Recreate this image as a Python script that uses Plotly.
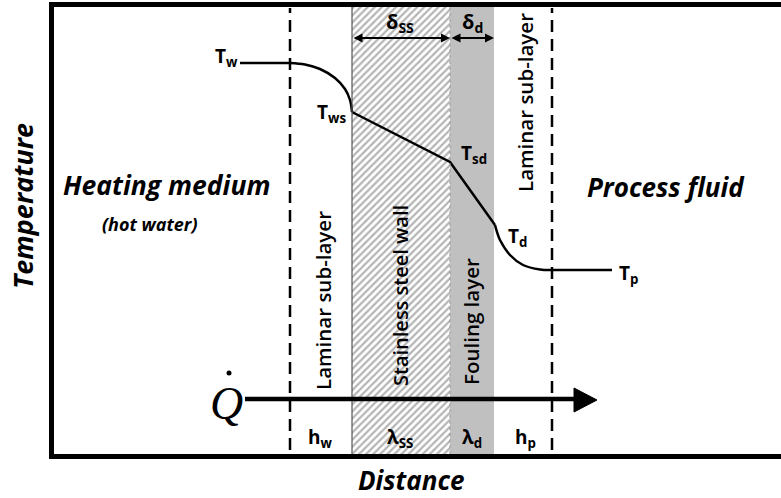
import plotly.graph_objects as go

# ---- data (diagram units: distance -> x, temperature -> y) ----
# layer boundaries along the distance axis
boundary_names = ["hot sub-layer edge", "wall start", "wall/deposit", "deposit end", "cold sub-layer edge"]
boundary_x = [290, 352, 450, 494, 552]

# temperature profile
hot_bulk_x = [240, 290]
hot_bulk_T = [435, 435]
hot_film_x = [290, 305, 320, 335, 345, 350, 352]
hot_film_T = [435, 433.5, 429, 420, 409, 398, 386]
solid_x = [352, 450, 495]
solid_T = [386, 336, 273]
cold_film_x = [495, 497, 500, 510, 523, 540, 552]
cold_film_T = [273, 266, 258, 243, 233, 228.5, 228]
cold_bulk_x = [552, 612]
cold_bulk_T = [228, 228]

point_labels = ["T<sub>w</sub>", "T<sub>ws</sub>", "T<sub>sd</sub>", "T<sub>d</sub>", "T<sub>p</sub>"]

W, H = 781, 498
def Y(py):
    return H - py

FONT = "Open Sans"
fig = go.Figure()

# stainless steel wall (hatched)
x0, x1 = boundary_x[1], boundary_x[2]
fig.add_trace(go.Scatter(
    x=[x0, x1, x1, x0, x0], y=[Y(454), Y(454), Y(7), Y(7), Y(454)],
    mode="lines", fill="toself", line=dict(width=0),
    fillcolor="white",
    fillpattern=dict(shape="/", fgcolor="#6a6a6a", bgcolor="white", size=5, solidity=0.45),
    hoverinfo="skip", showlegend=False))

# temperature profile
for xs, ts, shp in [(hot_bulk_x, hot_bulk_T, "linear"), (hot_film_x, hot_film_T, "spline"),
                    (solid_x, solid_T, "linear"), (cold_film_x, cold_film_T, "spline"),
                    (cold_bulk_x, cold_bulk_T, "linear")]:
    fig.add_trace(go.Scatter(x=xs, y=ts, mode="lines",
                             line=dict(color="black", width=2.5, shape=shp, smoothing=1.0),
                             hoverinfo="skip", showlegend=False))

shapes = []
# fouling layer
shapes.append(dict(type="rect", x0=boundary_x[2], x1=boundary_x[3], y0=Y(454), y1=Y(7),
                   fillcolor="#c0c0c0", line=dict(width=0), layer="below"))
# wall edges
shapes.append(dict(type="line", x0=boundary_x[1], x1=boundary_x[1], y0=Y(454), y1=Y(7),
                   line=dict(color="#555555", width=1.2)))
shapes.append(dict(type="line", x0=boundary_x[2], x1=boundary_x[2], y0=Y(454), y1=Y(7),
                   line=dict(color="#999999", width=1, dash="dot")))
# dashed laminar sub-layer edges
for bx in (boundary_x[0], boundary_x[4]):
    shapes.append(dict(type="line", x0=bx, x1=bx, y0=Y(450), y1=Y(8),
                       line=dict(color="black", width=2.5, dash="12px,7px")))
# frame
shapes.append(dict(type="line", x0=51.5, x1=51.5, y0=Y(459), y1=Y(2), line=dict(color="black", width=5)))
shapes.append(dict(type="line", x0=49, x1=W, y0=Y(4.5), y1=Y(4.5), line=dict(color="black", width=5)))
shapes.append(dict(type="line", x0=49, x1=W, y0=Y(456.5), y1=Y(456.5), line=dict(color="black", width=5)))
# heat flow arrow
shapes.append(dict(type="line", x0=245, x1=576, y0=Y(399), y1=Y(399), line=dict(color="black", width=4.5)))
shapes.append(dict(type="path", path=f"M 574 {Y(388)} L 597 {Y(400)} L 574 {Y(412)} Z",
                   fillcolor="black", line=dict(color="black", width=1)))
# dot of Q-dot
shapes.append(dict(type="circle", x0=226.5, x1=231.5, y0=Y(375.5), y1=Y(370.5),
                   fillcolor="black", line=dict(width=0)))

ann = []
def txt(x, py, s, size, bold=False, italic=False, angle=0, family=FONT, weight=None):
    if italic:
        s = f"<i>{s}</i>"
    if bold:
        s = f"<b>{s}</b>"
    f = dict(family=family, size=size, color="black")
    if weight:
        f["weight"] = weight
    ann.append(dict(x=x, y=Y(py), text=s, showarrow=False, textangle=angle,
                    font=f, xanchor="center", yanchor="middle"))

# point labels
txt(226, 57, point_labels[0], 19, bold=True)
txt(331, 113, point_labels[1], 19, bold=True)
txt(474, 154, point_labels[2], 19, bold=True)
txt(517, 237, point_labels[3], 19, bold=True)
txt(628, 274, point_labels[4], 19, bold=True)

# region labels
txt(166, 185, "Heating medium", 26.5, bold=True, italic=True)
txt(150, 224, "(hot water)", 18, bold=True, italic=True)
txt(666, 187, "Process fluid", 26, bold=True, italic=True)
txt(323, 301, "Laminar sub-layer", 20.5, angle=-90, weight=600)
txt(400, 296, "Stainless steel wall", 20, angle=-90, weight=600)
txt(471, 322, "Fouling layer", 20.5, angle=-90, weight=600)
txt(525, 103, "Laminar sub-layer", 20.5, angle=-90, weight=600)

# thickness labels + arrows
txt(400, 22, "δ<sub>SS</sub>", 20, bold=True)
txt(472, 22, "δ<sub>d</sub>", 20, bold=True)
for a, b in [(boundary_x[1], boundary_x[2]), (boundary_x[2], boundary_x[3])]:
    ann.append(dict(x=b, y=Y(38), ax=a, ay=Y(38), xref="x", yref="y", axref="x", ayref="y",
                    showarrow=True, arrowside="end+start", arrowhead=2, arrowsize=1,
                    arrowwidth=1.8, arrowcolor="black", standoff=0, startstandoff=0, text=""))

# conductance labels
txt(320, 438, "h<sub>w</sub>", 19, bold=True)
txt(400, 438, "λ<sub>SS</sub>", 19, bold=True)
txt(472, 438, "λ<sub>d</sub>", 19, bold=True)
txt(525, 438, "h<sub>p</sub>", 19, bold=True)

# Q-dot
txt(226, 403, "Q", 46, italic=True, family="Liberation Serif")

# axis titles
txt(22, 206, "Temperature", 27, bold=True, italic=True, angle=-90)
txt(411, 480, "Distance", 26, bold=True, italic=True)

fig.update_layout(
    width=W, height=H, margin=dict(l=0, r=0, t=0, b=0),
    paper_bgcolor="white", plot_bgcolor="white",
    xaxis=dict(range=[0, W], visible=False, fixedrange=True),
    yaxis=dict(range=[0, H], visible=False, fixedrange=True),
    shapes=shapes, annotations=ann, showlegend=False)

fig.write_html("out.html", config={"displayModeBar": False},
               post_script="document.body.style.margin='0';document.body.style.overflow='hidden';")
